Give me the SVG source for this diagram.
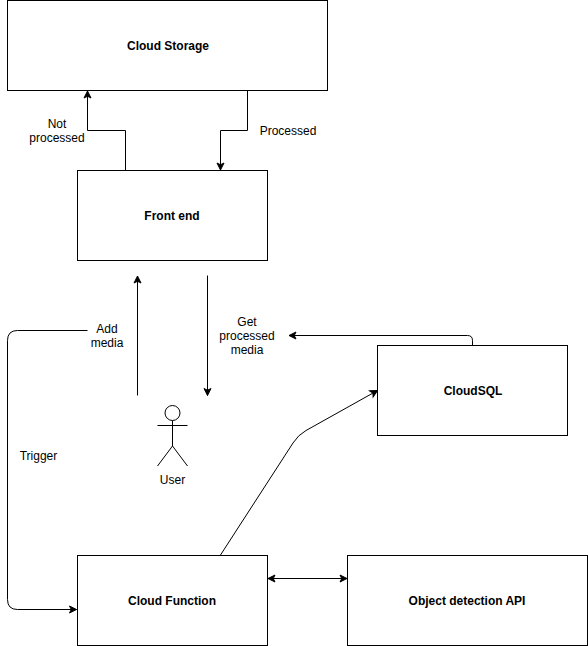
<svg xmlns="http://www.w3.org/2000/svg" width="588" height="646" viewBox="0 0 588 646">
<style>
rect{fill:#fff;stroke:#000;stroke-width:1}
.c path{fill:none;stroke:#000;stroke-width:1}
text{font-family:"Liberation Sans",Arial,sans-serif;font-size:12px;fill:#000;text-anchor:middle}
.b{font-weight:bold}
.a{fill:none;stroke:#000;stroke-width:1}
</style>
<defs>
<marker id="e" markerUnits="userSpaceOnUse" markerWidth="10" markerHeight="10" refX="7.500" refY="4" orient="auto-start-reverse" overflow="visible"><path d="M0.500 0.500L7.500 4L0.500 7.500L2.250 4Z" fill="#000" stroke="#000" stroke-width="1"/></marker>
</defs>
<rect width="588" height="646" style="fill:#fff;stroke:none"/>
<g class="c" id="connectors">
<path d="M125.500 170V130.500H87.500V91" marker-end="url(#e)"/>
<path d="M247.500 90.500V130.500H220.500V170" marker-end="url(#e)"/>
<path d="M137.500 395.500V276" marker-end="url(#e)"/>
<path d="M207.500 275.500V395.500" marker-end="url(#e)"/>
<path d="M87.500 330.500H17.500Q7.500 330.500 7.500 340.500V599.500Q7.500 609.500 17.500 609.500H76.500" marker-end="url(#e)"/>
<path d="M472.500 345V340.500Q472.500 335.500 467.500 335.500H289" marker-end="url(#e)"/>
<path d="M220.500 555L293 443Q298 435 306 430.500L377.500 390.500" marker-end="url(#e)"/>
<path d="M268 578.500H347" marker-start="url(#e)" marker-end="url(#e)"/>
</g>
<g id="cloud-storage"><rect x="7.500" y="0.500" width="320" height="90"/><text class="b" x="168" y="50">Cloud Storage</text></g>
<g id="front-end"><rect x="77.500" y="170.500" width="190" height="90"/><text class="b" x="172" y="220">Front end</text></g>
<g id="cloudsql"><rect x="377.500" y="345.500" width="190" height="90"/><text class="b" x="473" y="395">CloudSQL</text></g>
<g id="cloud-function"><rect x="77.500" y="555.500" width="190" height="90"/><text class="b" x="172" y="605">Cloud Function</text></g>
<g id="object-detection"><rect x="347.500" y="555.500" width="240" height="90"/><text class="b" x="467" y="605">Object detection API</text></g>
<g id="user">
<circle class="a" cx="172.500" cy="413" r="7.500"/>
<path class="a" d="M172.500 420.500V446M157.500 425.500H187.500M157.500 466L172.500 446L187.500 466"/>
<text x="172.500" y="484">User</text>
</g>
<g id="labels">
<text x="57" y="128">Not</text><text x="57" y="142">processed</text>
<text x="288" y="135">Processed</text>
<text x="107" y="333">Add</text><text x="107" y="347">media</text>
<text x="247" y="326">Get</text><text x="247" y="340">processed</text><text x="247" y="354">media</text>
<text x="38.500" y="460">Trigger</text>
</g>
</svg>
